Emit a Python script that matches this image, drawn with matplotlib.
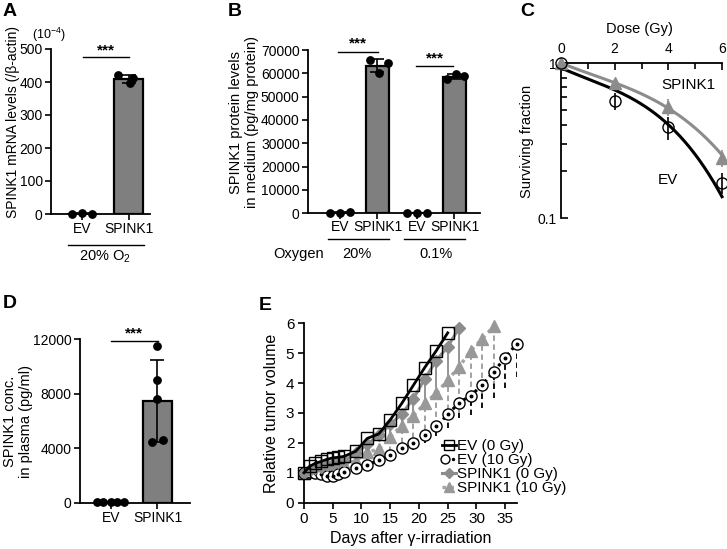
import numpy as np
import matplotlib
matplotlib.use('Agg')
import matplotlib.pyplot as plt
from matplotlib.legend_handler import HandlerTuple

plt.rcParams['font.family'] = ['Liberation Sans', 'DejaVu Sans']
plt.rcParams['mathtext.fontset'] = 'custom'
plt.rcParams['mathtext.rm'] = 'Liberation Sans'
plt.rcParams['mathtext.it'] = 'Liberation Sans:italic'
plt.rcParams['mathtext.bf'] = 'Liberation Sans:bold'

# ---------------- data ----------------
# Panel A
a_labels = ['EV', 'SPINK1']
a_ev = [1.0, 2.0, 1.5]
a_spink = [420, 413, 397]
a_yticks = [0, 100, 200, 300, 400, 500]

# Panel B
b_labels = ['EV', 'SPINK1', 'EV', 'SPINK1']
b_ev20 = [300, 250, 350]
b_sp20 = [65700, 60000, 64300]
b_ev01 = [300, 280, 320]
b_sp01 = [57440, 59580, 58850]
b_yticks = [0, 10000, 20000, 30000, 40000, 50000, 60000, 70000]

# Panel C
c_dose = [0, 2, 4, 6]
c_ev = [1.0, 0.57, 0.385, 0.169]
c_ev_err = [0.0, 0.07, 0.065, 0.026]
c_sp = [1.0, 0.74, 0.52, 0.243]
c_sp_err = [0.0, 0.03, 0.065, 0.03]
# fitted curve parameters: ln S = ln S0 - (a D + b D^2 + c D^3)
c_ev_fit = dict(s0=0.93, a=0.178, b=-0.0224, c=0.00765)
c_sp_fit = dict(s0=1.0, a=0.1624, b=-0.01737, c=0.00471)

# Panel D
d_labels = ['EV', 'SPINK1']
d_ev = [60, 40, 50, 70, 30]
d_sp = [11535, 9012, 7641, 4433, 4604]
d_yticks = [0, 4000, 8000, 12000]

# Panel E
e_days_ev0 = [0, 1, 2, 3, 4, 5, 6, 7, 9, 11, 13, 15, 17, 19, 21, 23, 25]
e_ev0 = [1.0, 1.22, 1.32, 1.38, 1.45, 1.5, 1.52, 1.55, 1.72, 2.15, 2.3, 2.77,
         3.32, 3.92, 4.52, 5.08, 5.68]
e_days_ev10 = [0, 1, 2, 3, 4, 5, 6, 7, 9, 11, 13, 15, 17, 19, 21, 23, 25, 27,
               29, 31, 33, 35, 37]
e_ev10 = [1.0, 1.02, 1.0, 0.97, 0.9, 0.9, 0.95, 1.02, 1.15, 1.27, 1.42, 1.6,
          1.82, 1.99, 2.25, 2.55, 2.95, 3.35, 3.58, 3.94, 4.38, 4.85, 5.32]
e_ev10_err = [0, 0.05, 0.05, 0.06, 0.08, 0.08, 0.1, 0.1, 0.12, 0.14, 0.16,
              0.18, 0.2, 0.22, 0.25, 0.32, 0.45, 0.53, 0.65, 0.78, 0.89, 1.0, 1.11]
e_days_sp0 = [0, 1, 2, 3, 4, 5, 6, 7, 9, 11, 13, 15, 17, 19, 21, 23, 25, 27]
e_sp0 = [1.0, 1.1, 1.15, 1.2, 1.25, 1.3, 1.35, 1.4, 1.65, 1.95, 2.25, 2.62,
         2.97, 3.47, 4.14, 4.75, 5.22, 5.85]
e_sp0_err = [0, 0.05, 0.05, 0.06, 0.06, 0.07, 0.08, 0.08, 0.1, 0.15, 0.2, 0.3,
             0.4, 0.55, 0.7, 0.9, 1.17, 1.5]
e_days_sp10 = [0, 1, 2, 3, 4, 5, 6, 7, 9, 11, 13, 15, 17, 19, 21, 23, 25, 27,
               29, 31, 33]
e_sp10 = [1.0, 1.05, 1.1, 1.12, 1.15, 1.2, 1.25, 1.3, 1.4, 1.68, 1.8, 2.21,
          2.58, 2.9, 3.32, 3.66, 4.1, 4.55, 5.08, 5.48, 5.9]
e_sp10_err = [0, 0.05, 0.06, 0.06, 0.07, 0.08, 0.1, 0.12, 0.2, 0.3, 0.4, 0.5,
              0.6, 0.75, 0.9, 1.1, 1.3, 1.5, 1.8, 1.9, 2.0]
e_legend = ['EV (0 Gy)', 'EV (10 Gy)', 'SPINK1 (0 Gy)', 'SPINK1 (10 Gy)']

# ---------------- layout helpers ----------------
W, H = 727, 549
fig = plt.figure(figsize=(W / 100, H / 100), dpi=100)

def rect(l, t, r, b):
    return [l / W, 1 - b / H, (r - l) / W, (b - t) / H]

def ftext(x, y, s, **kw):
    fig.text(x / W, 1 - y / H, s, **kw)

GRAY = '#7f7f7f'
TICK_FS = 10
LAB_FS = 10.5

def style_bar_axes(ax):
    for s in ['top', 'right']:
        ax.spines[s].set_visible(False)
    for s in ['left', 'bottom']:
        ax.spines[s].set_linewidth(1.3)
    ax.tick_params(direction='out', length=4, width=1.2, labelsize=TICK_FS, pad=2)

def bar_group(ax, x, vals, offsets):
    vals = np.asarray(vals, float)
    m = vals.mean()
    sd = vals.std(ddof=1)
    ax.bar(x, m, width=0.62, color=GRAY, edgecolor='black', linewidth=1.6, zorder=2)
    ax.errorbar(x, m, yerr=sd, fmt='none', ecolor='black', elinewidth=1.2,
                capsize=5, capthick=1.2, zorder=3)
    ax.scatter(x + np.asarray(offsets), vals, s=28, color='black', zorder=4, clip_on=False)

def bracket(ax, x0, x1, y, ty, fs=11):
    ax.plot([x0, x1], [y, y], color='black', lw=1.0, clip_on=False)
    ax.text((x0 + x1) / 2, ty, '***', ha='center', va='center', fontsize=fs,
            fontweight='bold', clip_on=False)

# ---------------- Panel A ----------------
axa = fig.add_axes(rect(51, 49, 150, 214))
style_bar_axes(axa)
xa = np.arange(len(a_labels))
bar_group(axa, xa[0], a_ev, [-0.21, 0, 0.21])
bar_group(axa, xa[1], a_spink, [-0.23, 0.09, 0.02])
axa.set_xlim(-0.66, 1.45)
axa.set_ylim(0, 500)
axa.set_yticks(a_yticks)
axa.set_xticks(xa)
axa.set_xticklabels(a_labels)
bracket(axa, 0.02, 1.0, 476, 497)
ta = axa.get_xaxis_transform()
axa.plot([-0.3, 1.32], [-0.188, -0.188], color='black', lw=1.0, transform=ta, clip_on=False)
axa.text(0.5, -0.26, '20% O$_2$', transform=ta, ha='center', va='center', fontsize=10.5)
ftext(49, 35, '(10$^{-4}$)', ha='center', va='center', fontsize=9)
ftext(13, 122, 'SPINK1 mRNA levels (/β-actin)', rotation=90, ha='center', va='center', fontsize=10)

# ---------------- Panel B ----------------
axb = fig.add_axes(rect(308, 50, 480, 213.3))
style_bar_axes(axb)
xb = np.array([0, 1, 2.05, 3.05])
bar_group(axb, xb[0], b_ev20, [-0.27, 0, 0.27])
bar_group(axb, xb[1], b_sp20, [-0.21, 0.05, 0.27])
bar_group(axb, xb[2], b_ev01, [-0.27, 0, 0.27])
bar_group(axb, xb[3], b_sp01, [-0.21, 0.03, 0.25])
axb.set_xlim(-0.85, 3.73)
axb.set_ylim(0, 70000)
axb.set_yticks(b_yticks)
axb.set_xticks(xb)
axb.set_xticklabels(b_labels)
for lab in axb.get_xticklabels():
    lab.set_fontsize(10)
axb.tick_params(axis='x', pad=1)
bracket(axb, -0.05, 1.01, 69140, 73000)
bracket(axb, 2.03, 3.01, 63140, 66570)
tb = axb.get_xaxis_transform()
axb.plot([-0.32, 1.3], [-0.16, -0.16], color='black', lw=1.0, transform=tb, clip_on=False)
axb.plot([1.7, 3.33], [-0.16, -0.16], color='black', lw=1.0, transform=tb, clip_on=False)
axb.text(0.45, -0.25, '20%', transform=tb, ha='center', va='center', fontsize=10.5)
axb.text(2.55, -0.25, '0.1%', transform=tb, ha='center', va='center', fontsize=10.5)
ftext(299, 254, 'Oxygen', ha='center', va='center', fontsize=10.5)
ftext(244, 122, 'SPINK1 protein levels\nin medium (pg/mg protein)', rotation=90,
      ha='center', va='center', fontsize=LAB_FS, linespacing=1.15)

# ---------------- Panel C ----------------
axc = fig.add_axes(rect(561, 63, 722, 218))
axc.set_yscale('log')
axc.set_xlim(0, 6)
axc.set_ylim(0.1, 1)
for s in ['bottom', 'right']:
    axc.spines[s].set_visible(False)
for s in ['top', 'left']:
    axc.spines[s].set_linewidth(1.3)
axc.xaxis.tick_top()
axc.set_xticks([0, 2, 4, 6])
axc.set_xticks([1, 3, 5], minor=True)
axc.set_yticks([0.1, 1])
axc.set_yticklabels(['0.1', '1'])
axc.yaxis.set_minor_formatter(matplotlib.ticker.NullFormatter())
axc.tick_params(which='both', direction='in', width=1.2, labelsize=TICK_FS, pad=3)
axc.tick_params(axis='x', which='major', pad=5)
axc.tick_params(which='major', length=5)
axc.tick_params(which='minor', length=4)
dd = np.linspace(0, 6, 200)
def lq(p, d):
    return p['s0'] * np.exp(-(p['a'] * d + p['b'] * d ** 2 + p['c'] * d ** 3))
axc.plot(dd, lq(c_ev_fit, dd), color='black', lw=2.2, zorder=3, clip_on=False)
axc.plot(dd, lq(c_sp_fit, dd), color='#8c8c8c', lw=2.2, zorder=3, clip_on=False)
axc.errorbar(c_dose, c_sp, yerr=c_sp_err, fmt='^', color='#8c8c8c', ms=8,
             elinewidth=1.2, capsize=0, zorder=4, clip_on=False)
axc.errorbar(c_dose, c_ev, yerr=c_ev_err, fmt='o', mfc='none', mec='black', ecolor='black',
             ms=8, mew=1.0, elinewidth=1.2, capsize=0, zorder=5, clip_on=False)
ftext(639, 29, 'Dose (Gy)', ha='center', va='center', fontsize=LAB_FS)
ftext(527, 141, 'Surviving fraction', rotation=90, ha='center', va='center', fontsize=LAB_FS)
ftext(688, 85, 'SPINK1', ha='center', va='center', fontsize=11)
ftext(668, 180, 'EV', ha='center', va='center', fontsize=11)

# ---------------- Panel D ----------------
axd = fig.add_axes(rect(80, 339.3, 190, 502.7))
style_bar_axes(axd)
xd = np.arange(len(d_labels))
bar_group(axd, xd[0], d_ev, [-0.3, -0.17, 0, 0.13, 0.28])
bar_group(axd, xd[1], d_sp, [0, 0, 0, -0.12, 0.11])
axd.set_xlim(-0.667, 1.70)
axd.set_ylim(0, 12000)
axd.set_yticks(d_yticks)
axd.set_xticks(xd)
axd.set_xticklabels(d_labels)
bracket(axd, 0.0, 1.01, 11875, 12460)
ftext(18, 421, 'SPINK1 conc.\nin plasma (pg/ml)', rotation=90, ha='center', va='center',
      fontsize=LAB_FS, linespacing=1.15)

# ---------------- Panel E ----------------
axe = fig.add_axes(rect(304, 323.3, 516.7, 502.7))
for s in ['top', 'right']:
    axe.spines[s].set_visible(False)
for s in ['left', 'bottom']:
    axe.spines[s].set_linewidth(1.3)
axe.set_xlim(0, 37)
axe.set_ylim(0, 6)
axe.set_xticks(np.arange(0, 36, 5))
axe.set_yticks(np.arange(0, 7, 1))
axe.tick_params(direction='out', length=4, width=1.2, labelsize=TICK_FS + 1, pad=3)

def lower_err(ax, x, y, err, color, ls):
    e = ax.errorbar(x, y, yerr=[err, np.zeros(len(err))], fmt='none', ecolor=color,
                    elinewidth=1.3, capsize=0, zorder=1)
    e[2][0].set_linestyle(ls)

lower_err(axe, e_days_sp10, e_sp10, e_sp10_err, '#9a9a9a', (0, (3, 2)))
lower_err(axe, e_days_ev10, e_ev10, e_ev10_err, 'black', (0, (3, 2)))
lower_err(axe, e_days_sp0, e_sp0, e_sp0_err, '#8c8c8c', '-')

h_sp10, = axe.plot(e_days_sp10, e_sp10, linestyle=(0, (1, 1.3)), color='#a6a6a6', lw=2.5,
                   marker='^', ms=9, mfc='#999999', mec='#999999', zorder=2, clip_on=False)
h_ev10, = axe.plot(e_days_ev10, e_ev10, linestyle=(0, (1, 1.3)), color='black', lw=2.2,
                   marker='o', ms=8, mfc='white', mec='black', mew=1.0, zorder=3, clip_on=False)
h_ev10d, = axe.plot(e_days_ev10, e_ev10, linestyle='none', marker='o', ms=1.8,
                    color='black', zorder=3.1, clip_on=False)
h_sp0, = axe.plot(e_days_sp0, e_sp0, '-', color='#8c8c8c', lw=2.2, marker='D', ms=6.5,
                  mfc='#8c8c8c', mec='#8c8c8c', zorder=4, clip_on=False)
h_ev0, = axe.plot(e_days_ev0, e_ev0, '-', color='black', lw=2.0, marker='s', ms=9,
                  mfc='none', mec='black', mew=1.0, zorder=5, clip_on=False)
axe.legend([h_ev0, (h_ev10, h_ev10d), h_sp0, h_sp10], e_legend,
           handler_map={tuple: HandlerTuple(ndivide=None)},
           loc='lower left', bbox_to_anchor=(0.635, 0.025), frameon=False,
           fontsize=11, handlelength=0.9, handletextpad=0.1, labelspacing=0.0,
           borderaxespad=0.0, borderpad=0.2, markerscale=0.8)
axe.set_xlabel('Days after γ-irradiation', fontsize=11.5, labelpad=3)
axe.set_ylabel('Relative tumor volume', fontsize=11.5, labelpad=5)

# ---------------- panel letters ----------------
for x, y, s in [(10, 11, 'A'), (235, 12, 'B'), (527, 12, 'C'), (10, 304, 'D'), (265, 306, 'E')]:
    ftext(x, y, s, ha='center', va='center', fontsize=14, fontweight='bold')

fig.savefig('out.png', dpi=100)
